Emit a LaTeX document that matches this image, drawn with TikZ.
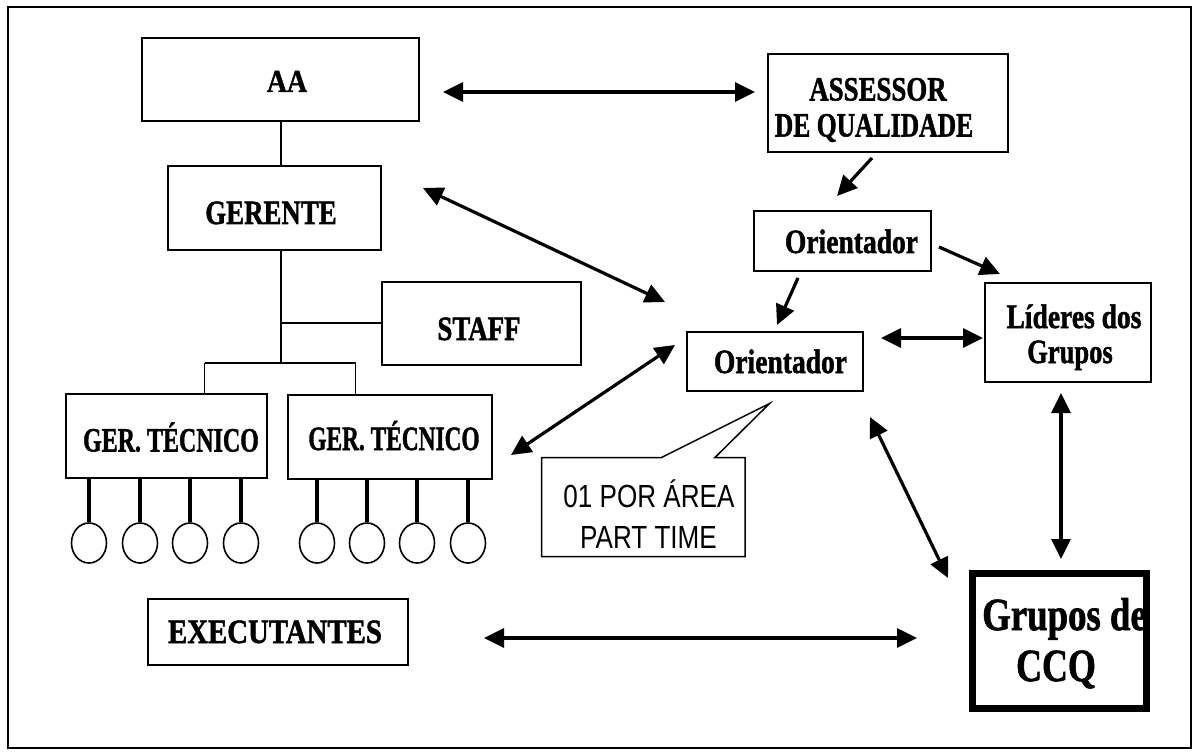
\documentclass[tikz,border=0pt]{standalone}
\usepackage{fontspec}
\usepackage{graphicx}
\setmainfont{Liberation Serif}[BoldFeatures={FakeBold=1.5}]
\newfontfamily\arialf{Liberation Sans}
\usetikzlibrary{arrows.meta,shapes.geometric}
\newcommand{\sq}[2]{\scalebox{#1}[1]{#2}}
\begin{document}
\begin{tikzpicture}[x=1pt,y=-1pt,
  box/.style={draw,line width=1.6pt,inner sep=0pt},
  lbl/.style={inner sep=0pt,anchor=base,font=\bfseries\fontsize{34}{36}\selectfont},
  clbl/.style={inner sep=0pt,anchor=base,font=\arialf\fontsize{32}{34}\selectfont},
  tree/.style={line width=1.4pt},
  stem/.style={line width=3.2pt},
  ell/.style={draw,ellipse,line width=1.6pt,minimum width=35pt,minimum height=40pt,inner sep=0pt},
  conn/.style={line width=3.2pt,{Triangle[length=20pt,width=19pt]}-{Triangle[length=20pt,width=19pt]}},
  conn1/.style={line width=3.2pt,-{Triangle[length=20pt,width=19pt]}}]
\useasboundingbox (0,0) rectangle (1197,754);
\draw[line width=1.5pt] (8,7) rectangle (1191,748);

% boxes
\node[box,minimum width=277pt,minimum height=83pt] (aa) at (280.5,79.5) {};
\node[box,minimum width=213pt,minimum height=84pt] (ger) at (274.5,208) {};
\node[box,minimum width=199pt,minimum height=83pt] (staff) at (481.5,323.5) {};
\node[box,minimum width=201pt,minimum height=84pt] (gt1) at (166.5,436) {};
\node[box,minimum width=204pt,minimum height=84pt] (gt2) at (390,437) {};
\node[box,minimum width=260pt,minimum height=66pt] (exec) at (278,632) {};
\node[box,minimum width=240pt,minimum height=98pt] (ass) at (888,103) {};
\node[box,minimum width=177pt,minimum height=60pt] (or1) at (842.5,241) {};
\node[box,minimum width=176pt,minimum height=59pt] (or2) at (775,361.5) {};
\node[box,minimum width=166pt,minimum height=99pt] (lid) at (1068,332.5) {};
\node[draw,line width=7pt,inner sep=0pt,minimum width=174pt,minimum height=135pt] (grp) at (1059.5,641) {};

% labels
\node[lbl,font=\bfseries\fontsize{32}{34}\selectfont] (taa) at (287,92) {\sq{0.87}{AA}};
\node[lbl] (tger) at (271,224) {\sq{0.79}{GERENTE}};
\node[lbl] (tstaff) at (479,340) {\sq{0.79}{STAFF}};
\node[lbl] (tgt1) at (171,451.5) {\sq{0.705}{GER. TÉCNICO}};
\node[lbl] (tgt2) at (394,450) {\sq{0.687}{GER. TÉCNICO}};
\node[lbl] (texec) at (275,643) {\sq{0.847}{EXECUTANTES}};
\node[lbl] (tass1) at (878,100.5) {\sq{0.79}{ASSESSOR}};
\node[lbl] (tass2) at (874,136.5) {\sq{0.753}{DE QUALIDADE}};
\node[lbl] (tor1) at (851.5,253) {\sq{0.81}{Orientador}};
\node[lbl] (tor2) at (780.5,373) {\sq{0.81}{Orientador}};
\node[lbl] (tlid1) at (1074,328) {\sq{0.81}{Líderes dos}};
\node[lbl] (tlid2) at (1070,363) {\sq{0.78}{Grupos}};
\node[lbl,font=\bfseries\fontsize{46}{48}\selectfont] (tgrp1) at (1064.5,630) {\sq{0.80}{Grupos de}};
\node[lbl,font=\bfseries\fontsize{46}{48}\selectfont] (tgrp2) at (1056,681) {\sq{0.78}{CCQ}};

% tree lines
\coordinate (j1) at (281,323);
\coordinate (j2) at (281,363);
\coordinate (b1) at (204.5,363);
\coordinate (b2) at (355.5,363);
\draw[tree] (aa.south -| j1) -- (ger.north -| j1);
\draw[tree] (ger.south -| j1) -- (j2);
\draw[tree] (j1) -- (staff.west |- j1);
\draw[tree] (b1) -- (b2);
\draw[tree] (b1) -- (b1 |- gt1.north);
\draw[tree] (b2) -- (b2 |- gt2.north);

% circles
\foreach \i/\x in {1/89,2/140,3/190,4/241}{
  \node[ell] (c\i) at (\x,543) {};
  \draw[stem] (c\i.north |- gt1.south) -- (c\i.north);
}
\foreach \i/\x in {5/317,6/367,7/417,8/468}{
  \node[ell] (c\i) at (\x,543) {};
  \draw[stem] (c\i.north |- gt2.south) -- (c\i.north);
}

% callout
\draw[line width=1.5pt,line join=miter] (541.5,457.5) -- (661.5,457.5) -- (769.5,403.5) -- (715,457.5) -- (745,457.5) -- (745,556.5) -- (541.5,556.5) -- cycle;
\node[clbl] (tc1) at (649,507) {\sq{0.815}{01 POR ÁREA}};
\node[clbl] (tc2) at (648.5,548) {\sq{0.815}{PART TIME}};

% arrow ends
\coordinate (a1s) at (443,92);  \coordinate (a1e) at (755,92);
\coordinate (a2s) at (423,188); \coordinate (a2e) at (665,302);
\coordinate (a3s) at (872,158); \coordinate (a3e) at (837,196);
\coordinate (a4s) at (939,247); \coordinate (a4e) at (1000,274);
\coordinate (a5s) at (798,278); \coordinate (a5e) at (777,325);
\coordinate (a6s) at (881,338); \coordinate (a6e) at (983,338);
\coordinate (a7s) at (675,345); \coordinate (a7e) at (511,455);
\coordinate (a8s) at (870,417); \coordinate (a8e) at (948,578);
\coordinate (a9s) at (1061,393); \coordinate (a9e) at (1061,559);
\coordinate (a10s) at (484,638); \coordinate (a10e) at (917,638);

\draw[conn] (a1s) -- (a1e);
\draw[conn] (a2s) -- (a2e);
\draw[conn1] (a3s) -- (a3e);
\draw[conn1] (a4s) -- (a4e);
\draw[conn1] (a5s) -- (a5e);
\draw[conn] (a6s) -- (a6e);
\draw[conn] (a7s) -- (a7e);
\draw[conn] (a8s) -- (a8e);
\draw[conn] (a9s) -- (a9e);
\draw[conn] (a10s) -- (a10e);
\end{tikzpicture}
\end{document}
